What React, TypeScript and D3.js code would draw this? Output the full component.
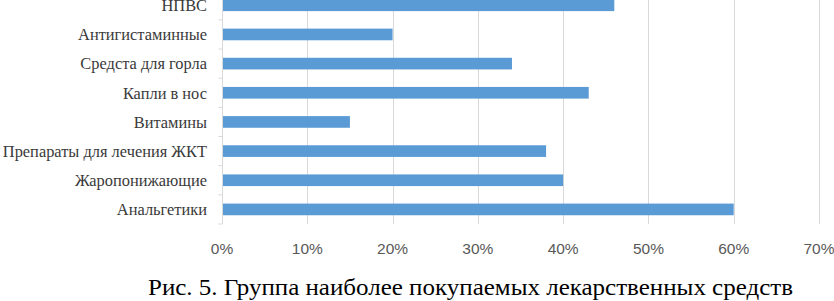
import React, { useRef, useEffect } from "react";
import * as d3 from "d3";

const categories = [
  "НПВС",
  "Антигистаминные",
  "Средста для горла",
  "Капли в нос",
  "Витамины",
  "Препараты для лечения ЖКТ",
  "Жаропонижающие",
  "Анальгетики",
];
const shares = [0.46, 0.2, 0.34, 0.43, 0.15, 0.38, 0.4, 0.6];
const xTicks = [0, 0.1, 0.2, 0.3, 0.4, 0.5, 0.6, 0.7];
const caption = "Рис. 5. Группа наиболее покупаемых лекарственных средств";

const SERIF = "Liberation Serif, Times New Roman, Times, serif";
const SANS = "Liberation Sans, Arial, sans-serif";

export default function App() {
  const svgRef = useRef<SVGSVGElement>(null);

  useEffect(() => {
    if (!svgRef.current) return;
    const svg = d3.select(svgRef.current);
    svg.selectAll("*").remove();

    const width = 834;
    const height = 301;

    // plot area (top is cut off in the original picture)
    const x = d3.scaleLinear().domain([0, 0.7]).range([222, 819]);
    const y = d3
      .scaleBand<string>()
      .domain(categories)
      .range([-9.3, 224])
      .paddingInner(0.6)
      .paddingOuter(0.3);

    svg.attr("width", width).attr("height", height);

    // gridlines
    svg
      .append("g")
      .selectAll("line")
      .data(xTicks.slice(1))
      .enter()
      .append("line")
      .attr("x1", d => Math.round(x(d)) + 0.5)
      .attr("x2", d => Math.round(x(d)) + 0.5)
      .attr("y1", -10)
      .attr("y2", 224)
      .attr("stroke", "#d9d9d9")
      .attr("stroke-width", 1);

    // bars
    svg
      .append("g")
      .selectAll("rect")
      .data(categories)
      .enter()
      .append("rect")
      .attr("x", x(0) + 1)
      .attr("y", d => y(d) || 0)
      .attr("width", (d, i) => x(shares[i]) - x(0) - 1)
      .attr("height", y.bandwidth())
      .attr("fill", "#5b9bd5");

    // vertical axis with tick marks between categories
    const axis = svg.append("g").attr("stroke", "#d9d9d9").attr("stroke-width", 1);
    const ax = Math.round(x(0)) + 0.5;
    axis.append("line").attr("x1", ax).attr("x2", ax).attr("y1", -10).attr("y2", 224);
    const step = y.step();
    const boundaries = d3.range(0, categories.length + 1).map(i => y.range()[0] + i * step);
    axis
      .selectAll("line.tick")
      .data(boundaries)
      .enter()
      .append("line")
      .attr("class", "tick")
      .attr("x1", ax - 4)
      .attr("x2", ax)
      .attr("y1", d => d)
      .attr("y2", d => d);

    // category labels
    svg
      .append("g")
      .selectAll("text")
      .data(categories)
      .enter()
      .append("text")
      .attr("x", 207)
      .attr("y", d => (y(d) || 0) + y.bandwidth() / 2)
      .attr("dy", "0.35em")
      .attr("text-anchor", "end")
      .attr("font-family", SERIF)
      .attr("font-size", 16.4)
      .attr("fill", "#3a3a3a")
      .text(d => d);

    // x tick labels
    svg
      .append("g")
      .selectAll("text")
      .data(xTicks)
      .enter()
      .append("text")
      .attr("x", d => x(d))
      .attr("y", 254)
      .attr("text-anchor", "middle")
      .attr("font-family", SANS)
      .attr("font-size", 15.5)
      .attr("fill", "#595959")
      .text(d => d3.format(".0%")(d));

    // caption
    svg
      .append("text")
      .attr("x", 148)
      .attr("y", 295)
      .attr("textLength", 645)
      .attr("lengthAdjust", "spacingAndGlyphs")
      .attr("font-family", SERIF)
      .attr("font-size", 23)
      .attr("fill", "#000")
      .text(caption);
  }, []);

  return (
    <div style={{ position: "absolute", left: 0, top: 0, background: "#fff" }}>
      <svg ref={svgRef} style={{ display: "block", overflow: "hidden" }} />
    </div>
  );
}
